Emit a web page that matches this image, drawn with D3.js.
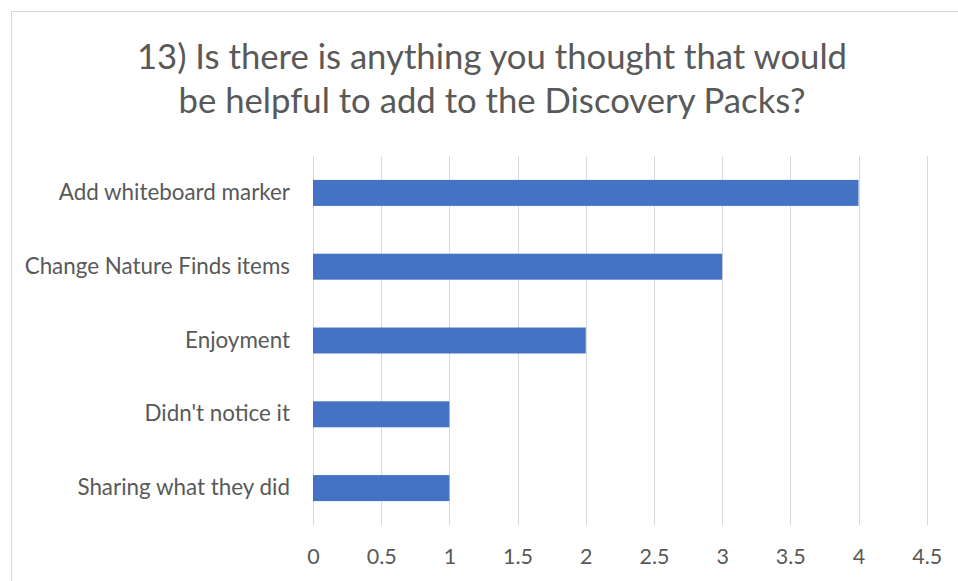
<!DOCTYPE html>
<html>
<head>
<meta charset="utf-8">
<script src="https://cdn.jsdelivr.net/npm/d3@7/dist/d3.min.js"></script>
<style>
  html, body { margin: 0; padding: 0; background: #fff; }
  svg { display: block; }
  text { font-family: Lato, "Open Sans", sans-serif; fill: #595959; }
</style>
</head>
<body>
<svg id="chart" width="958" height="581"></svg>
<script>
// Survey responses, top to bottom
const categories = [
  "Add whiteboard marker",
  "Change Nature Finds items",
  "Enjoyment",
  "Didn't notice it",
  "Sharing what they did"
];
const counts = [4, 3, 2, 1, 1];
const tickValues = [0, 0.5, 1, 1.5, 2, 2.5, 3, 3.5, 4, 4.5];
const titleLines = [
  "13) Is there is anything you thought that would",
  "be helpful to add to the Discovery Packs?"
];

const svg = d3.select("#chart");
const W = 958, H = 581;

// chart frame
svg.append("rect")
  .attr("x", 11.5).attr("y", 11.5)
  .attr("width", W + 10).attr("height", H + 10)
  .attr("fill", "#fff").attr("stroke", "#d9d9d9").attr("stroke-width", 1);

const plot = { left: 313, right: 926.7, top: 156, bottom: 525 };

const x = d3.scaleLinear().domain([0, 4.5]).range([plot.left, plot.right]);
const y = d3.scaleBand().domain(categories).range([plot.top, plot.bottom])
  .paddingInner(0.648).paddingOuter(0.324);

// vertical gridlines
svg.append("g")
  .selectAll("line").data(tickValues).join("line")
  .attr("x1", d => Math.round(x(d)) + 0.5).attr("x2", d => Math.round(x(d)) + 0.5)
  .attr("y1", plot.top).attr("y2", plot.bottom)
  .attr("stroke", "#d9d9d9").attr("stroke-width", 1);

// bars
svg.append("g")
  .selectAll("rect").data(categories).join("rect")
  .attr("x", x(0))
  .attr("y", d => y(d))
  .attr("width", (d, i) => x(counts[i]) - x(0))
  .attr("height", y.bandwidth())
  .attr("fill", "#4472C4");

// category axis
const yAxis = svg.append("g")
  .attr("transform", `translate(${plot.left},0)`)
  .call(d3.axisLeft(y).tickSize(0).tickPadding(23));
yAxis.select(".domain").remove();
yAxis.selectAll("text").style("font-size", "22.4px").attr("fill", "#595959");

// value axis
const xAxis = svg.append("g")
  .attr("transform", `translate(0,${plot.bottom})`)
  .call(d3.axisBottom(x).tickValues(tickValues).tickSize(0).tickPadding(24)
    .tickFormat(d3.format("")));
xAxis.select(".domain").remove();
xAxis.selectAll("text").style("font-size", "21.5px").attr("fill", "#595959");

// title
svg.append("g").selectAll("text").data(titleLines).join("text")
  .attr("x", 492).attr("y", (d, i) => 69 + i * 44)
  .attr("text-anchor", "middle")
  .style("font-size", "34.7px")
  .text(d => d);
</script>
</body>
</html>
